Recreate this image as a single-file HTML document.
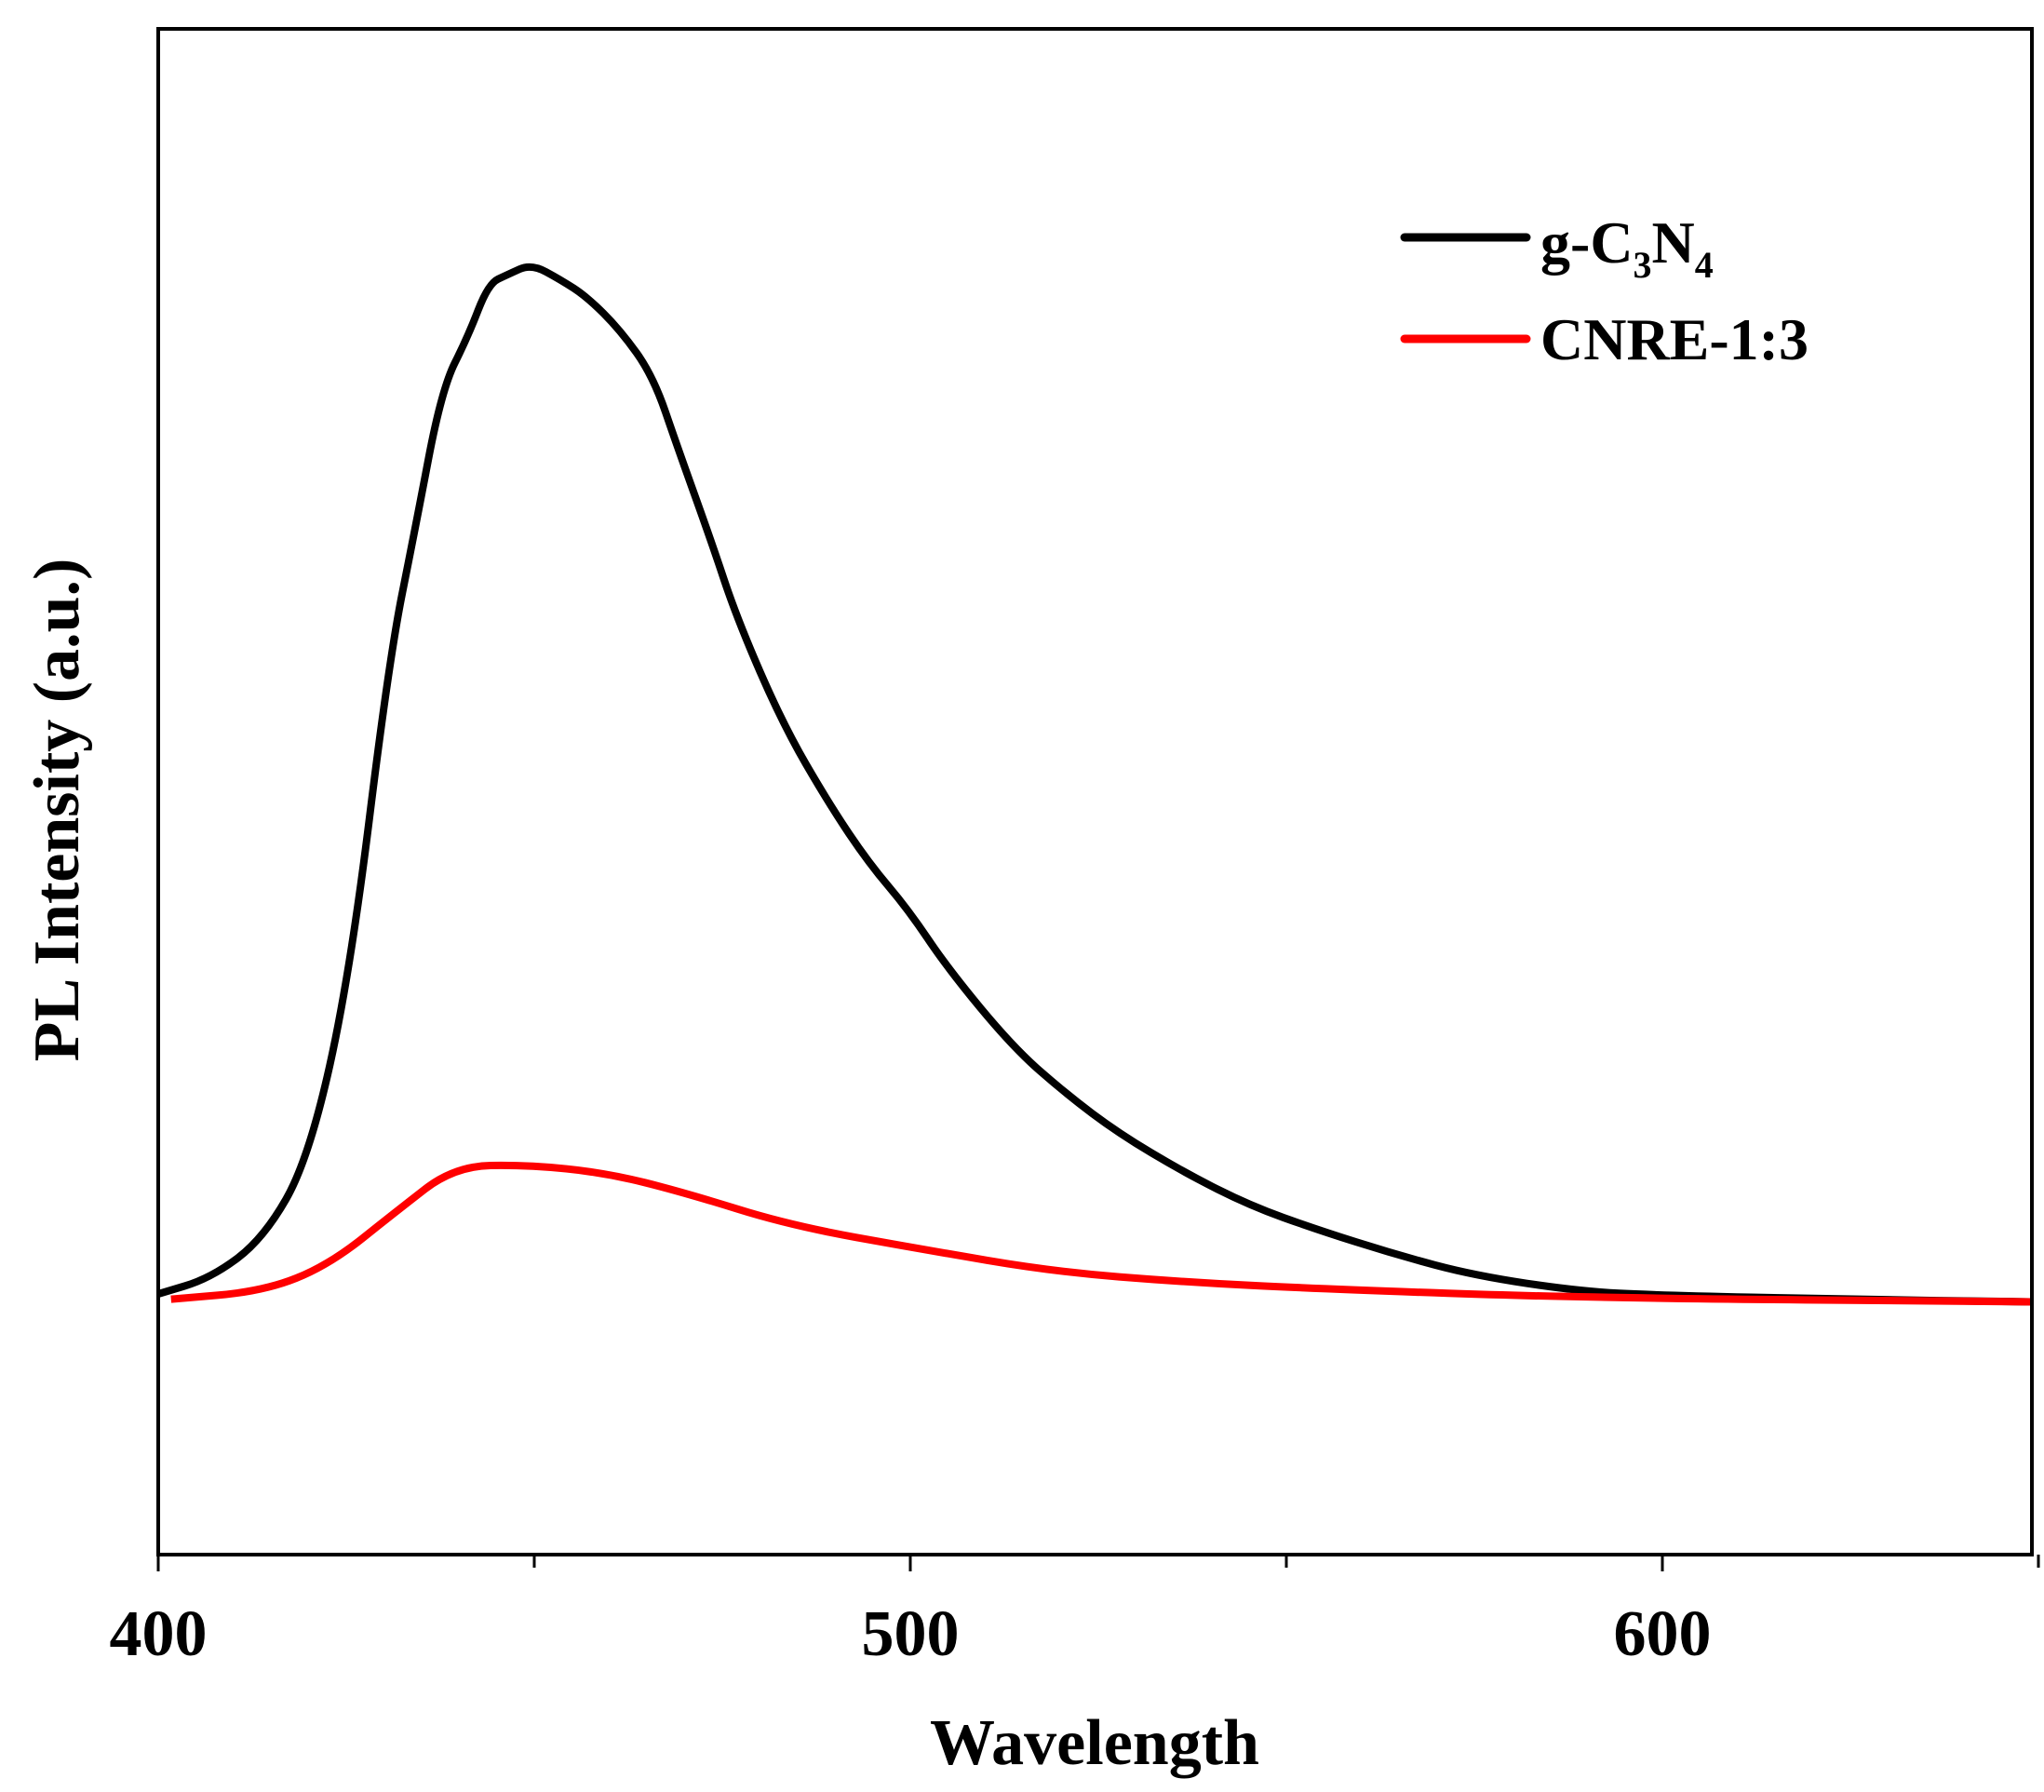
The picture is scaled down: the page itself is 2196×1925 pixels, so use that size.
<!DOCTYPE html>
<html><head><meta charset="utf-8"><style>
html,body{margin:0;padding:0;background:#fff;}
svg text{font-family:"Liberation Serif",serif;font-weight:bold;fill:#000;}
</style></head><body>
<svg id="chart" width="2196" height="1920" viewBox="0 0 2196 1920" xmlns="http://www.w3.org/2000/svg">
<g id="series"></g>
<rect x="170" y="31" width="2013" height="1639" fill="none" stroke="#000" stroke-width="4"/>
<g id="ticks"></g>
<text x="1176" y="1895" font-size="70" text-anchor="middle">Wavelength</text>
<text transform="translate(84,870) rotate(-90)" font-size="70" text-anchor="middle">PL Intensity (a.u.)</text>
<g>
<line x1="1509" y1="255" x2="1640" y2="255" stroke="#000" stroke-width="9" stroke-linecap="round"/>
<text x="1655" y="282" font-size="64">g-C<tspan font-size="40" dy="16">3</tspan><tspan dy="-16">N</tspan><tspan font-size="40" dy="16">4</tspan></text>
<line x1="1509" y1="364" x2="1640" y2="364" stroke="#f00" stroke-width="9" stroke-linecap="round"/>
<text x="1655" y="386" font-size="64">CNRE-1:3</text>
</g>
</svg>
<script>
const blackWl=[400,407,414,420,425.5,430.7,434.2,437.7,441.2,443.9,446.5,449.6,453.5,457,461.4,465.8,469.1,473.5,477,483.1,489.2,494.5,499.7,505,513.7,520.7,527.7,536.5,545.2,554,564.5,575,589,599.5,624,649];
const blackVal=[0,12,42,102,242,482,582,687,727,767,774,782,770,757,732,697,642,572,512,432,372,327,292,247,187,152,122,92,67,49,30,14,2,-1,-4,-6];
const redWl=[401.7,414,422.7,431.5,439.4,449,459.5,470,484,501.5,519,536.5,554,589,649];
const redVal=[-4,2,22,62,97,98,92,77,52,34,17,9,4,-3,-6];
const majorTicks=[400,500,600];
const minorTicks=[450,550,650];
const xPx=w=>170+(w-400)*8.08;
const yPx=v=>1390-v*1.415;
const NS="http://www.w3.org/2000/svg";
function path(wl,val){
  let d="";
  for(let i=0;i<wl.length;i++){
    const x=xPx(wl[i]),y=yPx(val[i]);
    if(i===0)d+="M"+x+","+y;
    else{const px=xPx(wl[i-1]),py=yPx(val[i-1]);d+=" Q"+px+","+py+" "+((px+x)/2)+","+((py+y)/2);}
  }
  d+=" L"+xPx(wl[wl.length-1])+","+yPx(val[val.length-1]);
  return d;
}
const s=document.getElementById("series");
const pb=document.createElementNS(NS,"path");
pb.setAttribute("d",path(blackWl,blackVal));
pb.setAttribute("fill","none");pb.setAttribute("stroke","#000");pb.setAttribute("stroke-width","8");pb.setAttribute("stroke-linejoin","round");


s.appendChild(pb);
const pr=document.createElementNS(NS,"path");
pr.setAttribute("d",path(redWl,redVal));
pr.setAttribute("fill","none");pr.setAttribute("stroke","#f00");pr.setAttribute("stroke-width","8");pr.setAttribute("stroke-linejoin","round");


s.appendChild(pr);
const t=document.getElementById("ticks");
majorTicks.forEach(w=>{
  const l=document.createElementNS(NS,"line");
  l.setAttribute("x1",xPx(w));l.setAttribute("x2",xPx(w));l.setAttribute("y1",1670);l.setAttribute("y2",1688);
  l.setAttribute("stroke","#000");l.setAttribute("stroke-width","3");
  
  
  t.appendChild(l);
  const tx=document.createElementNS(NS,"text");
  tx.setAttribute("x",xPx(w));tx.setAttribute("y",1778);tx.setAttribute("font-size","70");tx.setAttribute("text-anchor","middle");
  tx.textContent=w;
  
  
  t.appendChild(tx);
});
minorTicks.forEach(w=>{
  const l=document.createElementNS(NS,"line");
  l.setAttribute("x1",xPx(w));l.setAttribute("x2",xPx(w));l.setAttribute("y1",1670);l.setAttribute("y2",1684);
  l.setAttribute("stroke","#000");l.setAttribute("stroke-width","3");
  
  
  t.appendChild(l);
});
</script>
</body></html>
